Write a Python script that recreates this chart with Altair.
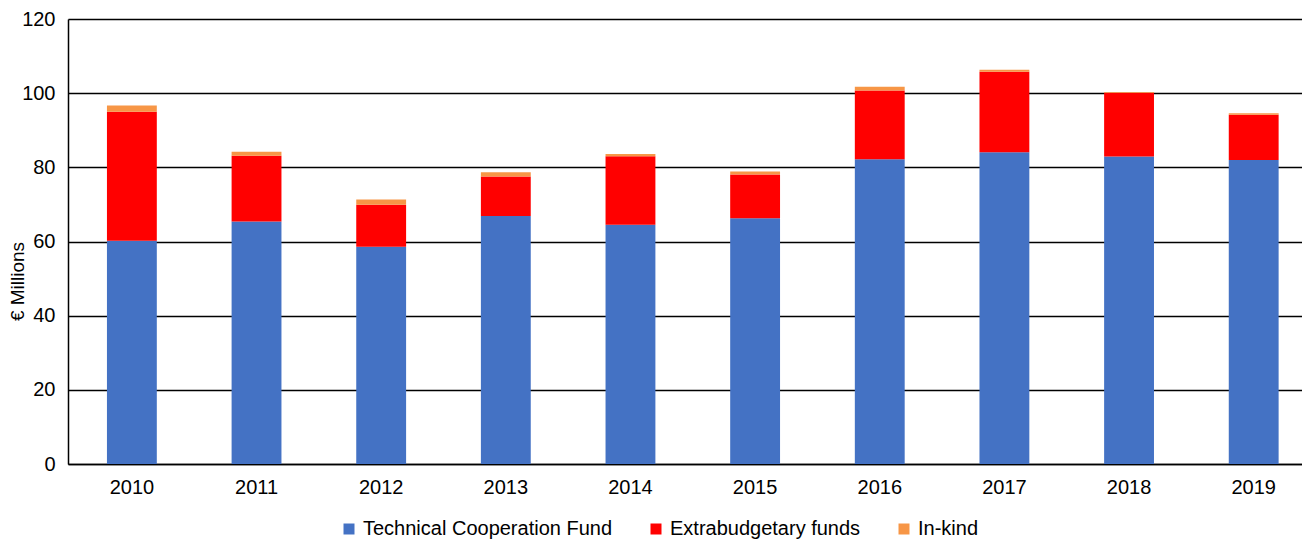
import altair as alt
import pandas as pd

years = ["2010", "2011", "2012", "2013", "2014", "2015", "2016", "2017", "2018", "2019"]
tcf = [60.2, 65.4, 58.6, 66.9, 64.5, 66.3, 82.2, 84.1, 82.9, 82.0]
extra = [34.8, 17.7, 11.3, 10.6, 18.5, 11.8, 18.5, 21.7, 17.2, 12.2]
inkind = [1.7, 1.1, 1.4, 1.2, 0.6, 0.8, 1.0, 0.5, 0.2, 0.4]

series = ["Technical Cooperation Fund", "Extrabudgetary funds", "In-kind"]
colors = ["#4472C4", "#FF0000", "#F79646"]

rows = []
for i, y in enumerate(years):
    for k, (name, vals) in enumerate(zip(series, [tcf, extra, inkind])):
        rows.append({"Year": y, "Series": name, "Value": vals[i], "order": k})
df = pd.DataFrame(rows)

font = "Liberation Sans"

chart = alt.Chart(df).mark_bar().encode(
    x=alt.X("Year:N", title=None, sort=years,
            scale=alt.Scale(paddingInner=0.6, paddingOuter=0.25, align=0.625),
            axis=alt.Axis(labelAngle=0, ticks=False, labelPadding=13, labelFontSize=20,
                          labelFont=font, labelColor="#000000", domainColor="#000000",
                          domainWidth=1.5)),
    y=alt.Y("Value:Q", title="€ Millions", stack="zero",
            scale=alt.Scale(domain=[0, 120]),
            axis=alt.Axis(values=[0, 20, 40, 60, 80, 100, 120], ticks=False, labelPadding=13,
                          labelFontSize=20, labelFont=font, labelColor="#000000",
                          titleFont=font, titleFontSize=19, titleFontWeight="normal",
                          titleColor="#000000", titleX=-51, titleY=262,
                          titleAlign="center", titleBaseline="middle", titleAngle=270,
                          gridColor="#000000", gridWidth=1.4, gridOpacity=1,
                          domainColor="#000000", domainWidth=1.5)),
    color=alt.Color("Series:N", sort=series,
                    scale=alt.Scale(domain=series, range=colors),
                    legend=alt.Legend(title=None, orient="none", direction="horizontal",
                                      legendX=271, legendY=500,
                                      symbolType="square", symbolSize=121, symbolStrokeWidth=0,
                                      labelFont=font, labelFontSize=20, labelColor="#000000",
                                      labelLimit=0, columnPadding=33, labelOffset=4)),
    order=alt.Order("order:Q", sort="ascending"),
).properties(
    width=1234, height=445,
    padding={"left": 0, "top": 1, "right": 0, "bottom": 0},
).configure_view(stroke=None)

chart.save("out.html", embed_options={"renderer": "svg", "actions": False})
